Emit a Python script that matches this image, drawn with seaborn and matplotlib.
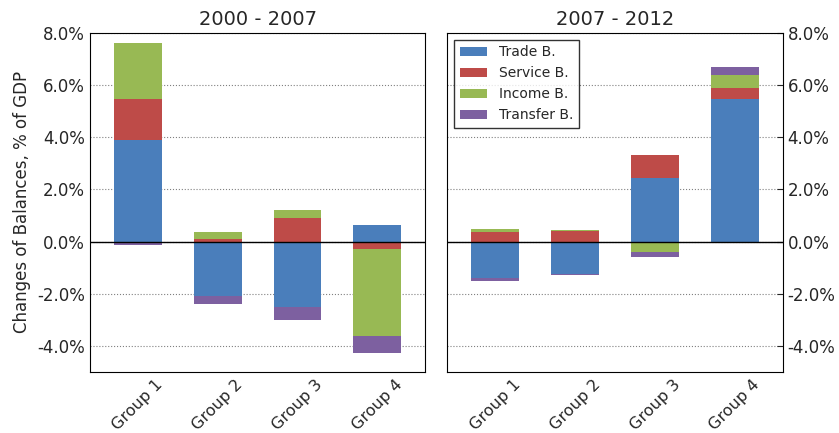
import matplotlib
matplotlib.use("Agg")
import matplotlib.pyplot as plt
import numpy as np
import seaborn as sns

sns.set_style("white")
plt.rcParams['font.family'] = ['DejaVu Sans']

groups = ["Group 1", "Group 2", "Group 3", "Group 4"]
components = ["Trade B.", "Service B.", "Income B.", "Transfer B."]
colors = ["#4a7ebb", "#be4b48", "#98b954", "#7d60a0"]

# values in % of GDP, per component for groups 1..4
p1 = {
    "Trade B.": [3.9, -2.1, -2.5, 0.65],
    "Service B.": [1.55, 0.1, 0.92, -0.27],
    "Income B.": [2.15, 0.25, 0.3, -3.35],
    "Transfer B.": [-0.15, -0.28, -0.5, -0.65],
}
p2 = {
    "Trade B.": [-1.4, -1.25, 2.45, 5.45],
    "Service B.": [0.35, 0.4, 0.85, 0.45],
    "Income B.": [0.15, 0.05, -0.4, 0.5],
    "Transfer B.": [-0.13, -0.02, -0.18, 0.3],
}
titles = ["2000 - 2007", "2007 - 2012"]

fig, axes = plt.subplots(1, 2, figsize=(8.39, 4.33), dpi=100)
x = np.arange(len(groups))
for ax, data, title in zip(axes, [p1, p2], titles):
    pos = np.zeros(len(groups))
    neg = np.zeros(len(groups))
    for comp, col in zip(components, colors):
        v = np.array(data[comp])
        bottom = np.where(v >= 0, pos, neg)
        ax.bar(x, v, 0.6, bottom=bottom, color=col, label=comp, edgecolor="none")
        pos = pos + np.where(v >= 0, v, 0)
        neg = neg + np.where(v < 0, v, 0)
    ax.axhline(0, color="black", lw=1)
    ax.set_ylim(-5, 8)
    ax.set_xlim(-0.6, 3.6)
    ax.set_yticks(np.arange(-4, 9, 2))
    ax.set_yticklabels([f"{t:.1f}%" for t in np.arange(-4, 9, 2)], fontsize=12)
    ax.set_xticks(x)
    ax.set_xticklabels(groups, rotation=45, fontsize=11.5)
    ax.yaxis.grid(True, linestyle=":", color="gray")
    ax.set_title(title, fontsize=14)
    ax.tick_params(direction="in", length=4)
    for s in ax.spines.values():
        s.set_color("black")

axes[0].set_ylabel("Changes of Balances, % of GDP", fontsize=12)
axes[1].yaxis.tick_right()
axes[1].legend(loc="upper left", fontsize=10, frameon=True, edgecolor="black", fancybox=False)
plt.subplots_adjust(left=0.107, right=0.933, top=0.924, bottom=0.141, wspace=0.065)
plt.savefig("out.png")
